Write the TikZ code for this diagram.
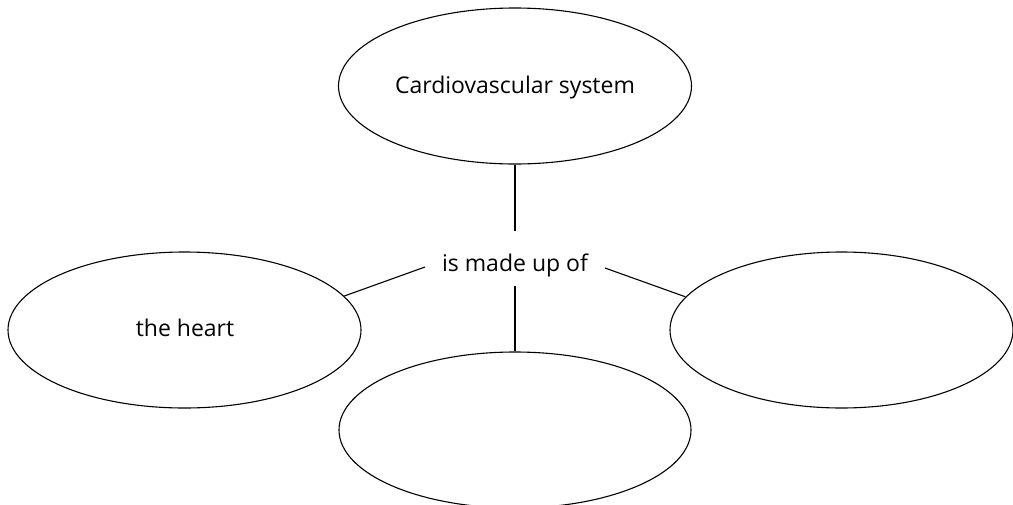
\documentclass[tikz,border=0pt]{standalone}
\usepackage{fontspec}
\setmainfont{Open Sans}
\usetikzlibrary{shapes.geometric}
\begin{document}
\begin{tikzpicture}[x=1pt,y=-1pt,
  bubble/.style={draw=black,line width=1.1pt,ellipse,inner sep=0pt,minimum width=353pt,minimum height=156pt},
  conn/.style={draw=black,line width=1.1pt},
  lbl/.style={font=\fontsize{23}{27}\selectfont,inner sep=0pt}]
\useasboundingbox (0,0) rectangle (1013,504);
\node[bubble] (top) at (515,86) {};
\node[lbl] at (515,88) {Cardiovascular system};
\node[bubble] (left) at (184.5,330) {};
\node[lbl] at (185,328) {the heart};
\node[bubble,minimum width=343pt] (right) at (841.5,330) {};
\node[bubble,minimum width=352pt] (bottom) at (515,430) {};
\node[lbl,anchor=base] (mid) at (515,271) {is made up of};
\coordinate (mt) at (515,231);
\coordinate (mb) at (515,286);
\coordinate (ml) at (425,267);
\coordinate (mr) at (605,268);
\draw[conn] (top.south) -- (mt);
\draw[conn] (mb) -- (bottom.north);
\draw[conn] (ml) -- (left.12);
\draw[conn] (mr) -- (right.168);
\end{tikzpicture}
\end{document}
